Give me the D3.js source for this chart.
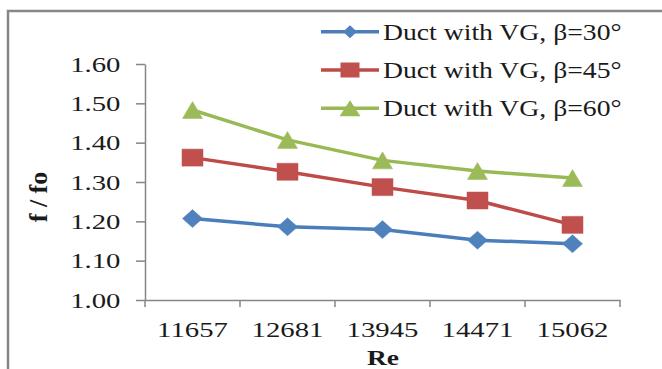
<!DOCTYPE html>
<html>
<head>
<meta charset="utf-8">
<script src="https://cdn.jsdelivr.net/npm/d3@7"></script>
<style>
  html, body { margin: 0; padding: 0; background: #fff; }
  svg { display: block; }
  text { font-family: "Liberation Serif", "Times New Roman", serif; fill: #1a1a1a; }
</style>
</head>
<body>
<svg id="chart" width="662" height="369"></svg>
<script>
// Reynolds numbers on the category axis
const categories = ["11657", "12681", "13945", "14471", "15062"];

// Friction factor ratio f/fo for each vortex generator angle
const beta30 = [1.207, 1.186, 1.179, 1.152, 1.143];
const beta45 = [1.362, 1.326, 1.287, 1.253, 1.191];
const beta60 = [1.483, 1.407, 1.355, 1.328, 1.310];

const seriesNames = ["Duct with VG, β=30°", "Duct with VG, β=45°", "Duct with VG, β=60°"];
const yTicks = [1.00, 1.10, 1.20, 1.30, 1.40, 1.50, 1.60];

const series = [
  { name: seriesNames[0], values: beta30, color: "#4A7EBB", fill: "#4F81BD", shape: "diamond" },
  { name: seriesNames[1], values: beta45, color: "#BE4B48", fill: "#C0504D", shape: "square" },
  { name: seriesNames[2], values: beta60, color: "#98B954", fill: "#9BBB59", shape: "triangle" }
];

const svg = d3.select("#chart");
const axisColor = "#868686";
const kTick = 1.37;   // horizontal widening of tick label glyphs
const kLegend = 1.23;

// outer frame
svg.append("rect")
  .attr("x", 8).attr("y", 11).attr("width", 720).attr("height", 420)
  .attr("fill", "none").attr("stroke", "#878787").attr("stroke-width", 2.5);

const plot = { left: 145, right: 620, top: 64, bottom: 300 };

const x = d3.scaleBand().domain(categories).range([plot.left, plot.right]).padding(0);
const y = d3.scaleLinear().domain([1.0, 1.6]).range([plot.bottom, plot.top]);

// y axis
const yAxis = svg.append("g")
  .attr("transform", `translate(${plot.left},0)`)
  .call(d3.axisLeft(y).tickValues(yTicks).tickFormat(d3.format(".2f")).tickSize(9).tickSizeOuter(0));
yAxis.select(".domain").attr("stroke", axisColor).attr("stroke-width", 1.5);
yAxis.selectAll(".tick line").attr("stroke", axisColor).attr("stroke-width", 1.5);
yAxis.selectAll(".tick text")
  .attr("x", null).attr("dy", null).attr("y", null)
  .attr("text-anchor", "end")
  .attr("font-size", 21)
  .attr("fill", "#1a1a1a")
  .attr("font-family", "Liberation Serif, serif")
  .attr("transform", `translate(-24.5,7) scale(${kTick},1)`);

// x axis: labels centred in each band, ticks on band boundaries
const xAxis = svg.append("g")
  .attr("transform", `translate(0,${plot.bottom})`)
  .call(d3.axisBottom(x).tickSize(0).tickSizeOuter(0));
xAxis.select(".domain").attr("stroke", axisColor).attr("stroke-width", 1.5);
xAxis.selectAll(".tick text")
  .attr("y", null).attr("dy", null)
  .attr("font-size", 21)
  .attr("fill", "#1a1a1a")
  .attr("font-family", "Liberation Serif, serif")
  .attr("transform", `translate(0,37) scale(${kTick},1)`);
const bounds = categories.map(c => x(c)).concat([x.range()[1]]);
xAxis.selectAll(".bound").data(bounds).enter().append("line")
  .attr("x1", d => d).attr("x2", d => d)
  .attr("y1", 0).attr("y2", 7)
  .attr("stroke", axisColor).attr("stroke-width", 1.5);

// axis titles
svg.append("text")
  .attr("text-anchor", "middle")
  .attr("font-weight", "bold").attr("font-size", 22)
  .attr("transform", "translate(383,365) scale(1.25,1)")
  .text("Re");
svg.append("text")
  .attr("text-anchor", "middle")
  .attr("font-weight", "bold").attr("font-size", 26)
  .attr("transform", "translate(47,197) rotate(-90)")
  .text("f / fo");

// marker path builder
function markerPath(shape, w, h) {
  const hw = w / 2, hh = h / 2;
  if (shape === "diamond") return `M0,${-hh}L${hw},0L0,${hh}L${-hw},0Z`;
  if (shape === "square") return `M${-hw},${-hh}H${hw}V${hh}H${-hw}Z`;
  return `M0,${-hh}L${hw},${hh}L${-hw},${hh}Z`;
}
const markerSize = { diamond: [20, 18], square: [21, 17], triangle: [20, 17] };
const legendMarkerSize = { diamond: [14, 13], square: [19, 15], triangle: [21, 16] };

const line = d3.line()
  .x((d, i) => x(categories[i]) + x.bandwidth() / 2)
  .y(d => y(d));

series.forEach(s => {
  const g = svg.append("g");
  g.append("path")
    .datum(s.values)
    .attr("d", line)
    .attr("fill", "none")
    .attr("stroke", s.color)
    .attr("stroke-width", 3.5)
    .attr("stroke-linejoin", "round");
  const [w, h] = markerSize[s.shape];
  g.selectAll("path.m").data(s.values).enter().append("path")
    .attr("class", "m")
    .attr("d", markerPath(s.shape, w, h))
    .attr("transform", (d, i) => `translate(${x(categories[i]) + x.bandwidth() / 2},${y(d)})`)
    .attr("fill", s.fill)
    .attr("stroke", s.fill).attr("stroke-width", 0.5);
});

// legend
const legendRows = [31.7, 70, 108.3];
series.forEach((s, i) => {
  const g = svg.append("g").attr("transform", `translate(0,${legendRows[i]})`);
  g.append("line")
    .attr("x1", 321).attr("x2", 379).attr("y1", 0).attr("y2", 0)
    .attr("stroke", s.color).attr("stroke-width", 3.5);
  const [w, h] = legendMarkerSize[s.shape];
  g.append("path")
    .attr("d", markerPath(s.shape, w, h))
    .attr("transform", "translate(350,0)")
    .attr("fill", s.fill);
  g.append("text")
    .attr("font-size", 22.5)
    .attr("transform", `translate(383,8) scale(${kLegend},1)`)
    .text(s.name);
});
</script>
</body>
</html>
